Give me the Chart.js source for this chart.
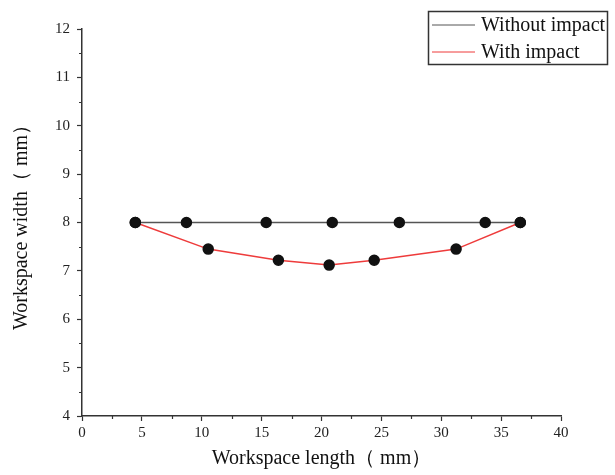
<!DOCTYPE html>
<html>
<head>
<meta charset="utf-8">
<script src="https://cdn.jsdelivr.net/npm/chart.js@4"></script>
<style>
  body { margin: 0; background: #fff; }
</style>
</head>
<body>
<canvas id="myChart" width="615" height="475"></canvas>
<script>
// workspace width vs length, with / without impact
var seriesNames = ['Without impact', 'With impact'];
var xWithout = [4.45, 8.72, 15.38, 20.9, 26.5, 33.67, 36.6];
var yWithout = [8, 8, 8, 8, 8, 8, 8];
var xWith = [4.45, 10.54, 16.4, 20.64, 24.4, 31.24, 36.6];
var yWith = [8, 7.45, 7.22, 7.12, 7.22, 7.45, 8];
var xTicks = [0, 5, 10, 15, 20, 25, 30, 35, 40];
var yTicks = [4, 5, 6, 7, 8, 9, 10, 11, 12];

function toPoints(xs, ys) {
    return xs.map(function (x, i) { return { x: x, y: ys[i] }; });
}

var serif = 'Liberation Serif, Times New Roman, serif';

function isMajor(list, v) {
    return list.indexOf(v) >= 0;
}

// legend box drawn in the top right corner + short minor ticks
var extras = {
    id: 'extras',
    afterDraw: function (chart) {
        var c = chart.ctx;
        c.save();

        // minor ticks
        var xs = chart.scales.x, ys = chart.scales.y;
        var area = chart.chartArea;
        c.strokeStyle = '#333';
        c.lineWidth = 1.2;
        c.beginPath();
        xs.ticks.forEach(function (t) {
            if (isMajor(xTicks, t.value)) return;
            var px = Math.round(xs.getPixelForValue(t.value)) + 0.5;
            c.moveTo(px, area.bottom);
            c.lineTo(px, area.bottom + 3);
        });
        ys.ticks.forEach(function (t) {
            if (isMajor(yTicks, t.value)) return;
            var py = Math.round(ys.getPixelForValue(t.value)) + 0.5;
            c.moveTo(area.left, py);
            c.lineTo(area.left - 3, py);
        });
        c.stroke();

        // legend
        c.strokeStyle = '#333';
        c.lineWidth = 1.5;
        c.strokeRect(428.5, 11.5, 179, 53);
        c.font = '20px ' + serif;
        c.textBaseline = 'middle';
        chart.data.datasets.forEach(function (ds, i) {
            var y = 25 + i * 27;
            c.strokeStyle = ds.borderColor;
            c.lineWidth = 1;
            c.beginPath();
            c.moveTo(432, y);
            c.lineTo(475, y);
            c.stroke();
            c.fillStyle = '#111';
            c.fillText(ds.label, 481, y + 1);
        });
        c.restore();
    }
};

var ctx = document.getElementById('myChart').getContext('2d');
var myChart = new Chart(ctx, {
    type: 'scatter',
    data: {
        datasets: [{
            label: seriesNames[0],
            data: toPoints(xWithout, yWithout),
            showLine: true,
            borderColor: '#555555',
            borderWidth: 1.5,
            pointBackgroundColor: '#111',
            pointBorderColor: '#111',
            pointRadius: 5
        }, {
            label: seriesNames[1],
            data: toPoints(xWith, yWith),
            showLine: true,
            borderColor: '#ee3b3b',
            borderWidth: 1.5,
            pointBackgroundColor: '#111',
            pointBorderColor: '#111',
            pointRadius: 5
        }]
    },
    options: {
        responsive: false,
        animation: false,
        layout: { padding: { left: 0, top: 29, right: 54, bottom: 0 } },
        plugins: {
            legend: { display: false },
            tooltip: { enabled: false }
        },
        scales: {
            x: {
                type: 'linear',
                min: 0,
                max: 40,
                afterFit: function (s) { s.height = 59; },
                afterBuildTicks: function (s) {
                    var t = [];
                    for (var v = 0; v <= 40; v += 2.5) t.push({ value: v });
                    s.ticks = t;
                },
                ticks: {
                    autoSkip: false,
                    maxRotation: 0,
                    padding: 3,
                    color: '#222',
                    font: { family: serif, size: 15 },
                    callback: function (v) { return isMajor(xTicks, v) ? String(v) : ''; }
                },
                grid: {
                    drawOnChartArea: false,
                    tickLength: 5,
                    tickColor: function (c) { return c.tick && isMajor(xTicks, c.tick.value) ? '#333' : 'rgba(0,0,0,0)'; },
                    tickWidth: 1.2
                },
                border: { color: '#333', width: 1.5 },
                title: {
                    display: true,
                    text: 'Workspace length（ mm）',
                    color: '#111',
                    font: { family: serif, size: 20 },
                    padding: { top: 4, bottom: 4 }
                }
            },
            y: {
                type: 'linear',
                min: 4,
                max: 12,
                afterFit: function (s) { s.width = 82; },
                afterBuildTicks: function (s) {
                    var t = [];
                    for (var v = 4; v <= 12; v += 0.5) t.push({ value: v });
                    s.ticks = t;
                },
                ticks: {
                    autoSkip: false,
                    padding: 7,
                    color: '#222',
                    font: { family: serif, size: 15 },
                    callback: function (v) { return isMajor(yTicks, v) ? String(v) : ''; }
                },
                grid: {
                    drawOnChartArea: false,
                    tickLength: 5,
                    tickColor: function (c) { return c.tick && isMajor(yTicks, c.tick.value) ? '#333' : 'rgba(0,0,0,0)'; },
                    tickWidth: 1.2
                },
                border: { color: '#333', width: 1.5 },
                title: {
                    display: true,
                    text: 'Workspace width（ mm）',
                    color: '#111',
                    font: { family: serif, size: 20 },
                    padding: { top: 10, bottom: 0 }
                }
            }
        }
    },
    plugins: [extras]
});
</script>
</body>
</html>
